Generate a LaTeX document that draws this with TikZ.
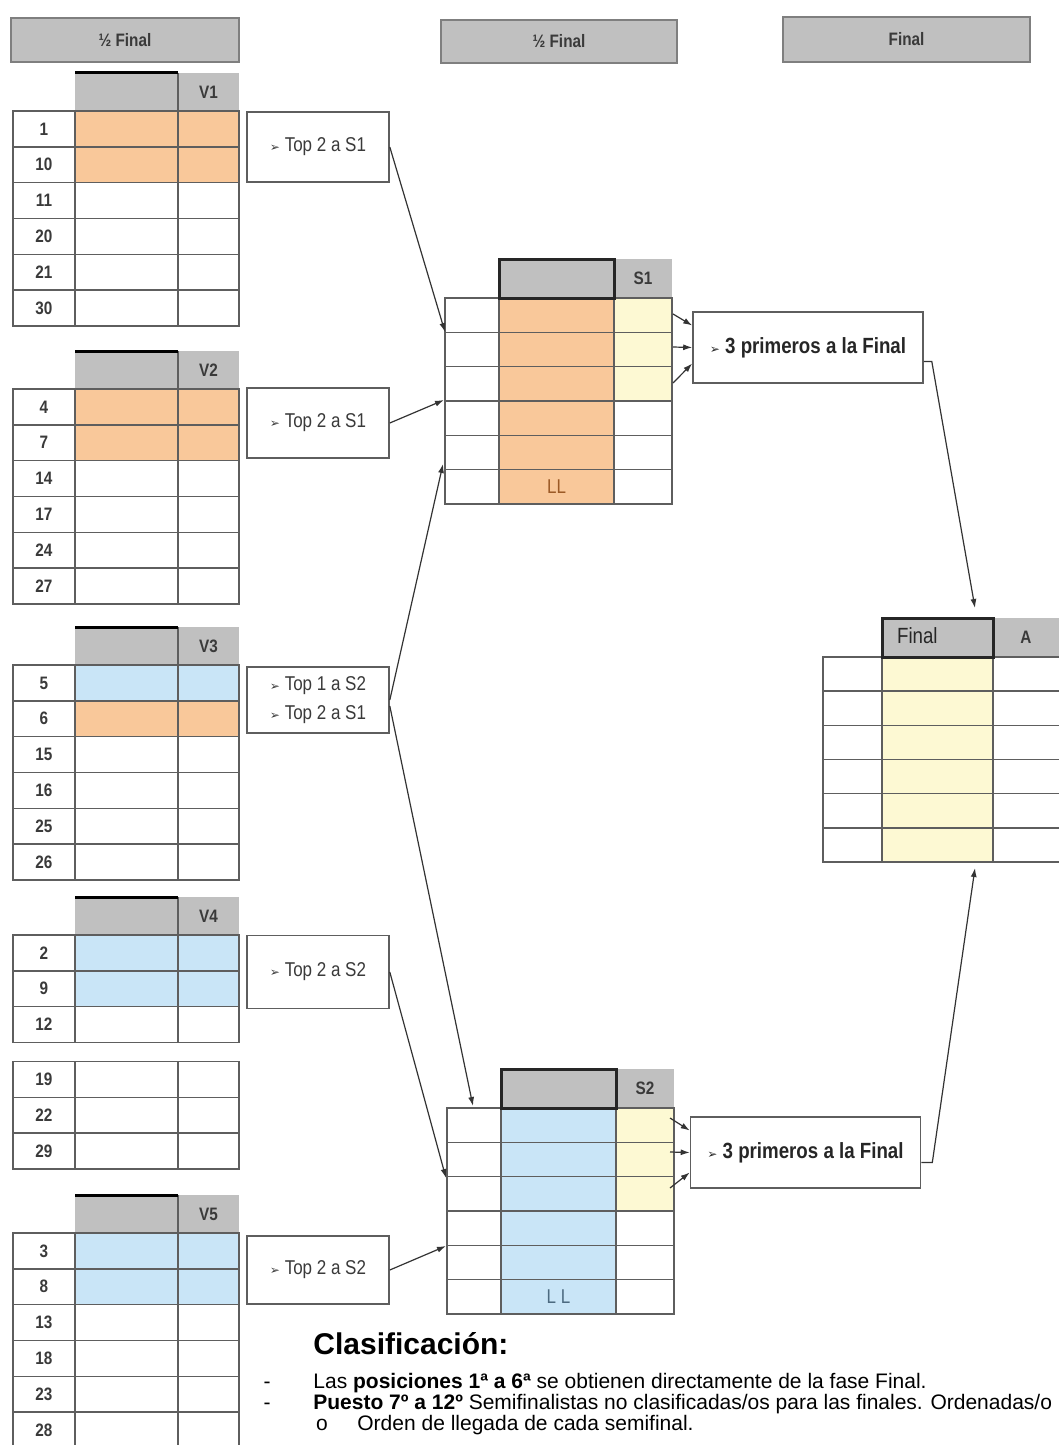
\documentclass[tikz,border=0pt]{standalone}
\usepackage{fontspec}
\setmainfont{Liberation Sans}
\newfontfamily\narrow[FakeStretch=0.85]{Liberation Sans}
\newfontfamily\symb{DejaVu Sans}
\usetikzlibrary{arrows.meta}

\definecolor{hdrgray}{HTML}{C0C0C0}
\definecolor{hdrline}{HTML}{7F7F7F}
\definecolor{gridgray}{HTML}{5E5E5E}
\definecolor{cellorange}{HTML}{F9C89A}
\definecolor{cellblue}{HTML}{C9E5F7}
\definecolor{cellyellow}{HTML}{FDF9D3}
\definecolor{txtgray}{HTML}{3A3A3A}
\definecolor{llorange}{HTML}{9C5A26}
\definecolor{llblue}{HTML}{4C6A80}

\newcommand\arrbullet{{\symb\fontsize{6}{6}\selectfont ➢}\ }

\tikzset{
  cellline/.style={draw=gridgray, line width=0.7pt},
  hdrbox/.style={fill=hdrgray, draw=hdrline, line width=0.8pt,
    font=\narrow\bfseries\fontsize{9}{9}\selectfont, text=txtgray},
  topbox/.style={draw=gridgray, fill=white, line width=0.8pt, minimum height=35pt,
    minimum width=71pt, align=left,
    font=\narrow\fontsize{10}{14.5}\selectfont, text=txtgray},
  finbox/.style={draw=gridgray, fill=white, line width=0.8pt, minimum height=35.5pt,
    minimum width=115pt, font=\narrow\bfseries\fontsize{11}{11}\selectfont, text=black!85},
  numlabel/.style={font=\narrow\bfseries\fontsize{9}{9}\selectfont, text=txtgray},
  conn/.style={draw=black!80, line width=0.6pt, -{Latex[length=4.5pt,width=3pt]}},
  notes/.style={anchor=base west, inner sep=0pt, font=\fontsize{10.5}{10.5}\selectfont},
}

\begin{document}
\begin{tikzpicture}[x=0.5pt,y=-0.5pt]
\useasboundingbox (0,0) rectangle (1059,1445);
\fill[white] (0,0) rectangle (1059,1445);
\clip (0,0) rectangle (1059,1445);

% column headers
\node[hdrbox, minimum width=114pt, minimum height=22pt] (hdv) at (125,40) {½ Final};
\node[hdrbox, minimum width=118pt, minimum height=21.5pt] (hds) at (559,41.5) {½ Final};
\node[hdrbox, minimum width=123.5pt, minimum height=22.5pt] (hdf) at (906.5,39.5) {Final};

% heats V1 to V5
\foreach \t/\l/\g/\ca/\cb/\nums in {
    73/V1/0/cellorange/cellorange/{1,10,11,20,21,30},
    351/V2/0/cellorange/cellorange/{4,7,14,17,24,27},
    627/V3/0/cellblue/cellorange/{5,6,15,16,25,26},
    897/V4/19/cellblue/cellblue/{2,9,12,19,22,29},
    1195/V5/0/cellblue/cellblue/{3,8,13,18,23,28}} {
  \fill[hdrgray] (75,\t) rectangle (239,\t+38);
  \draw[cellline] (178,\t) -- (178,\t+38);
  \draw[line width=1.5pt] (75,\t) -- (178,\t);
  \node[numlabel] (\l) at (208.5,\t+19) {\l};
  \foreach \n [count=\k from 0] in \nums {
    \pgfmathsetmacro\ya{\t+38+\k*35.8+(\k>2)*\g}
    \ifnum\k=0 \fill[\ca] (75,\ya) rectangle (239,\ya+35.8);\fi
    \ifnum\k=1 \fill[\cb] (75,\ya) rectangle (239,\ya+35.8);\fi
    \draw[cellline] (13,\ya) rectangle (75,\ya+35.8)
      (75,\ya) rectangle (178,\ya+35.8) (178,\ya) rectangle (239,\ya+35.8);
    \node[numlabel] (\l-\n) at (44,\ya+17.9) {\n};
  }
}

% semifinals S1 and S2
\foreach \t/\x/\l/\cc/\lc/\ll in {259/445/S1/cellorange/llorange/{LL},
    1069/447/S2/cellblue/llblue/{L L}} {
  \fill[hdrgray] (\x+54,\t) rectangle (\x+227,\t+39);
  \fill[\cc] (\x+54,\t+39) rectangle (\x+169,\t+244.8);
  \fill[cellyellow] (\x+169,\t+39) rectangle (\x+227,\t+141.9);
  \foreach \k in {0,...,5}
    \draw[cellline] (\x,\t+39+\k*34.3) rectangle (\x+227,\t+73.3+\k*34.3);
  \draw[cellline] (\x+54,\t+39) -- (\x+54,\t+244.8) (\x+169,\t+39) -- (\x+169,\t+244.8);
  \draw[line width=1.5pt, black!85] (\x+54,\t) rectangle (\x+169,\t+39);
  \node[numlabel] (\l) at (\x+198,\t+19.5) {\l};
  \node[font=\narrow\fontsize{10}{10}\selectfont, text=\lc] (\l-ll) at (\x+111.5,\t+227.6) {\ll};
}

% final
\fill[hdrgray] (882,618) rectangle (1062,657);
\fill[cellyellow] (882,657) rectangle (993,862);
\foreach \k in {0,...,5}
  \draw[cellline] (823,657+\k*34.17) rectangle (1062,691.17+\k*34.17);
\draw[cellline] (882,657) -- (882,862) (993,657) -- (993,862);
\draw[line width=1.5pt, black!85] (882,618) rectangle (993,657);
\node[anchor=west, font=\narrow\fontsize{11}{11}\selectfont, text=black!85] (fin-hd) at (890,636) {Final};
\node[numlabel] (fin-a) at (1026,637.5) {A};

% qualifying boxes
\node[topbox] (b1) at (318,147) {\arrbullet Top 2 a S1};
\node[topbox] (b2) at (318,423) {\arrbullet Top 2 a S1};
\node[topbox, minimum height=33pt] (b3) at (318,700) {\arrbullet Top 1 a S2\\\arrbullet Top 2 a S1};
\node[topbox, minimum height=36.5pt] (b4) at (318,972) {\arrbullet Top 2 a S2};
\node[topbox, minimum height=34pt] (b5) at (318,1270) {\arrbullet Top 2 a S2};
\node[finbox] (f1) at (808,347.5) {\arrbullet 3 primeros a la Final};
\node[finbox] (f2) at (805.5,1152.5) {\arrbullet 3 primeros a la Final};

% entry points
\coordinate (s1in1) at (445,332);
\coordinate (s1in2) at (444,400);
\coordinate (s1in3) at (443,464);
\coordinate (s2in1) at (473,1106);
\coordinate (s2in2) at (446,1178);
\coordinate (s2in3) at (446,1246);
\coordinate (s1o1) at (673,314);
\coordinate (s1o2) at (673,347);
\coordinate (s1o3) at (673,383);
\coordinate (s2o1) at (670,1118);
\coordinate (s2o2) at (670,1152);
\coordinate (s2o3) at (670,1188);
\coordinate (fin-top) at (975,608);
\coordinate (fin-bot) at (975,868);

\draw[conn] (b1.east) -- (s1in1);
\draw[conn] (b2.east) -- (s1in2);
\draw[conn] (b3.east) -- (s1in3);
\draw[conn] ([yshift=-3pt]b3.east) -- (s2in1);
\draw[conn] (b4.east) -- (s2in2);
\draw[conn] (b5.east) -- (s2in3);
\draw[conn] (s1o1) -- ([yshift=11pt]f1.west);
\draw[conn] (s1o2) -- (f1.west);
\draw[conn] (s1o3) -- ([yshift=-8pt]f1.west);
\draw[conn] (s2o1) -- ([yshift=11pt]f2.west);
\draw[conn] (s2o2) -- (f2.west);
\draw[conn] (s2o3) -- ([yshift=-10pt]f2.west);
\draw[conn] ([yshift=-7pt]f1.east) -- ++(8,0) -- (fin-top);
\draw[conn] ([yshift=-5pt]f2.east) -- ++(11,0) -- (fin-bot);

% classification notes
\node[anchor=base west, inner sep=0pt, font=\bfseries\fontsize{15}{15}\selectfont] (clas) at (313,1354) {Clasificación:};
\node[notes, anchor=base] (d1) at (267,1388) {-};
\node[notes] (t1) at (313,1388) {Las \textbf{posiciones 1ª a 6ª} se obtienen directamente de la fase Final.};
\node[notes, anchor=base] (d2) at (267,1409) {-};
\node[notes] (t2) at (313,1409) {\textbf{Puesto 7º a 12º} Semifinalistas no clasificadas/os para las finales. Ordenadas/o};
\node[notes, anchor=base] (o3) at (322,1430) {o};
\node[notes] (t3) at (357,1430) {Orden de llegada de cada semifinal.};
\end{tikzpicture}
\end{document}
